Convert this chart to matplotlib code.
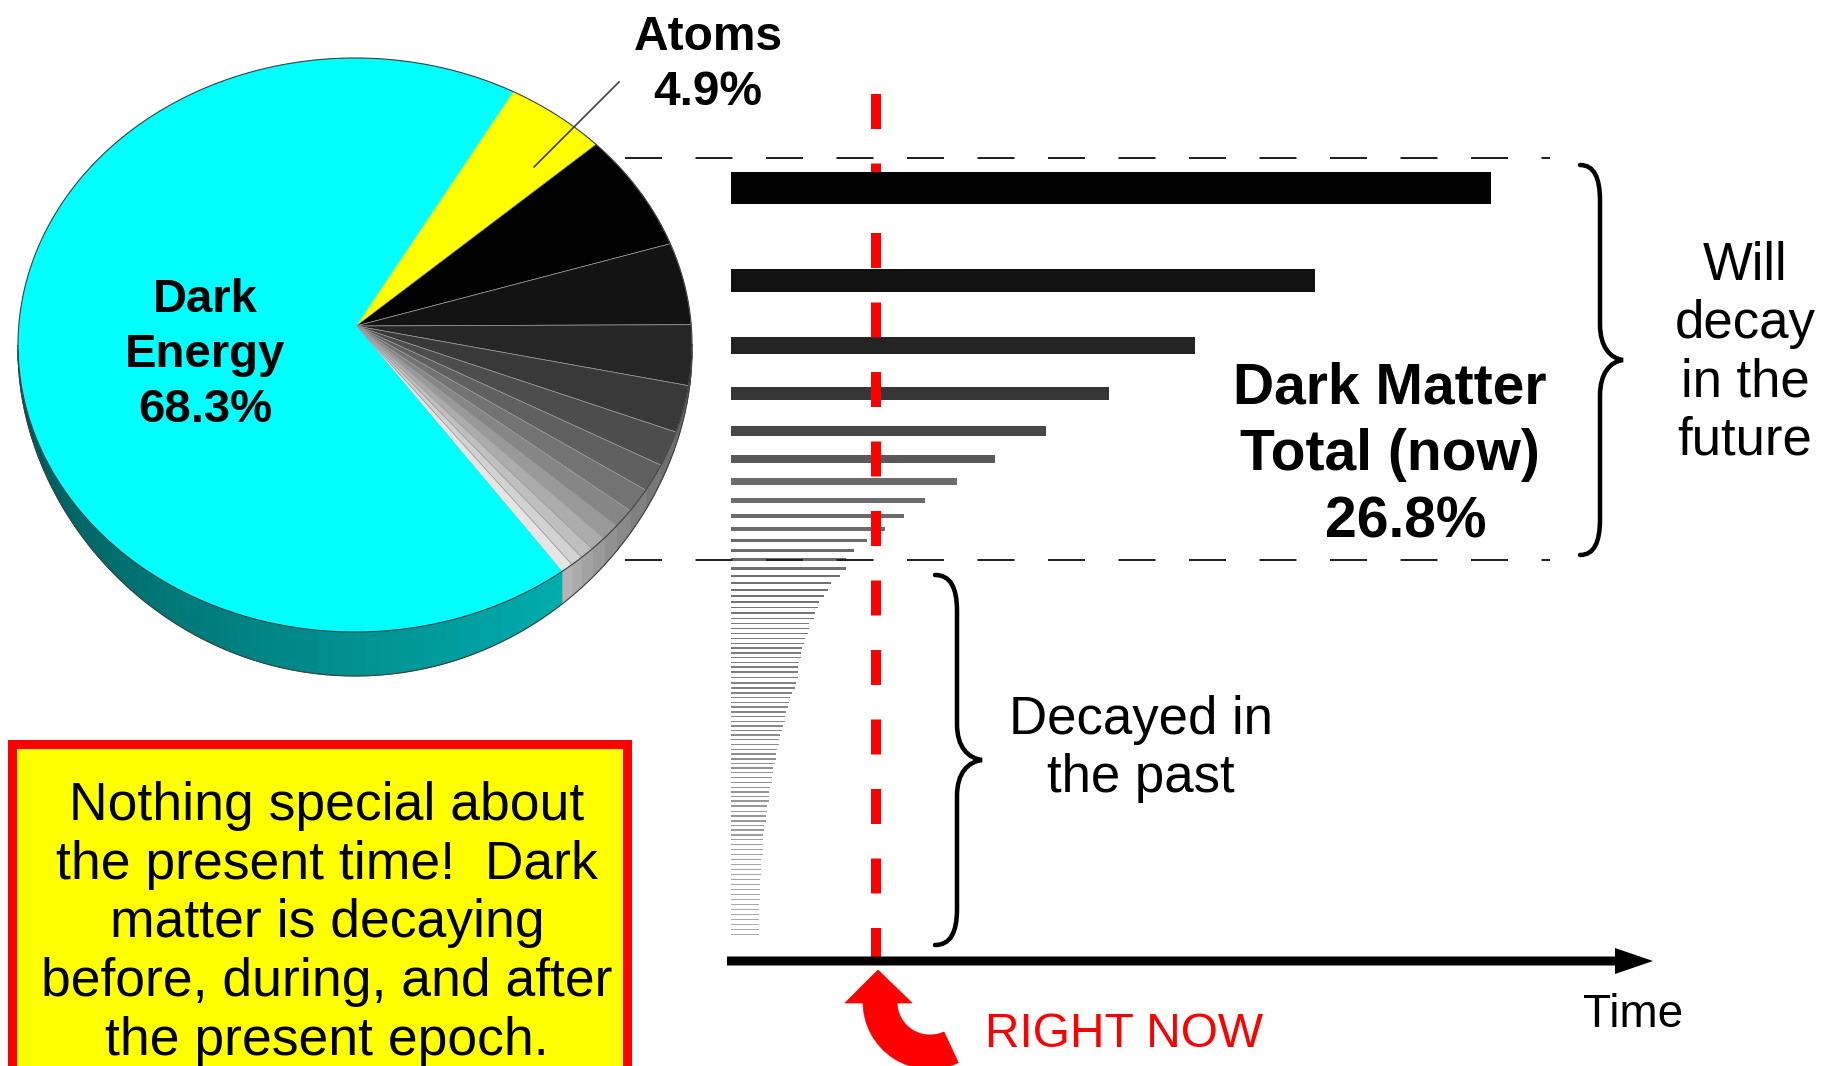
import numpy as np
import matplotlib
matplotlib.use("Agg")
import matplotlib.pyplot as plt
from matplotlib.patches import Polygon, Rectangle, Wedge, FancyArrow, PathPatch
from matplotlib.path import Path

# cosmic budget (%)
dark_energy = 68.3
atoms = 4.9
dark_matter = 26.8

# dark-matter species still around: lifetime (now = 1) and abundance weight
alive_life = [5.24, 4.03, 3.20, 2.61, 2.17, 1.82, 1.56, 1.34, 1.19, 1.06, 0.94, 0.85, 0.79]
alive_weight = [97, 68, 50, 39, 29, 23, 20, 16, 13, 12, 10, 9, 9]

# species that already decayed
decayed_life = [
    0.79, 0.75, 0.69, 0.67, 0.64, 0.61, 0.60, 0.58, 0.57, 0.54,
    0.54, 0.53, 0.51, 0.50, 0.49, 0.48, 0.48, 0.47, 0.46, 0.46,
    0.46, 0.45, 0.44, 0.42, 0.41, 0.40, 0.39, 0.38, 0.37, 0.37,
    0.36, 0.35, 0.34, 0.33, 0.33, 0.32, 0.31, 0.31, 0.30, 0.29,
    0.29, 0.28, 0.28, 0.27, 0.26, 0.26, 0.26, 0.25, 0.25, 0.24,
    0.24, 0.23, 0.23, 0.22, 0.22, 0.22, 0.22, 0.22, 0.21, 0.21,
    0.21, 0.21, 0.20, 0.20, 0.20, 0.20, 0.20, 0.19, 0.19, 0.19,
    0.19, 0.19, 0.19, 0.19,
]
decayed_weight = [
    7.5, 7.5, 6.5, 6.0, 6.0, 6.0, 5.5, 5.5, 5.0, 5.0,
    5.0, 5.0, 5.0, 4.5, 5.0, 4.5, 5.0, 4.5, 5.0, 5.5,
    5.5, 5.0, 5.0, 4.5, 5.0, 4.5, 5.0, 4.5, 5.0, 4.5,
    4.5, 4.5, 4.5, 5.0, 5.0, 4.5, 5.0, 4.5, 4.5, 4.5,
    5.0, 5.0, 5.0, 4.5, 4.5, 4.5, 4.5, 6.0, 4.5, 5.0,
    4.5, 4.5, 5.0, 4.5, 5.0, 5.0, 5.0, 5.0, 5.0, 5.0,
    5.0, 5.0, 5.0, 5.0, 5.0, 5.0, 5.0, 5.0, 5.0, 5.0,
    5.0, 5.0, 5.0, 5.0,
]

now = 1.0

plt.rcParams["font.family"] = ["Liberation Sans", "DejaVu Sans"]
plt.rcParams["lines.scale_dashes"] = False

W, H = 1832, 1066
PT = 0.72          # points per pixel at dpi 100
T0, PX_T = 731, 145  # time axis: origin pixel, pixels per time unit
BAR_TOP = 172

fig = plt.figure(figsize=(W / 100, H / 100), dpi=100)
bx = fig.add_axes([0, 0, 1, 1])   # bars, time on x
ax = fig.add_axes([0, 0, 1, 1])   # pixel canvas for the rest
for a in (ax, bx):
    a.set_axis_off()
ax.set_xlim(0, W)
ax.set_ylim(H, 0)
bx.set_xlim(-T0 / PX_T, (W - T0) / PX_T)
bx.set_ylim(H, 0)

# ---------------- bars ----------------
life = alive_life + decayed_life
weight = np.array(alive_weight + decayed_weight, dtype=float)
tops = BAR_TOP + np.concatenate([[0], np.cumsum(weight)[:-1]])
n_alive = len(alive_life)
gray = [min(0.07 * i, 0.42) for i in range(n_alive)]
gray += list(np.linspace(0.44, 0.68, len(decayed_life)))
bars = bx.barh(tops, life, height=weight / 3, align="edge",
               color=[str(g) for g in gray], lw=0, zorder=2)
bars[0].set_zorder(3)

bx.plot([now, now], [94, 962], color="#ff0000", lw=10 * PT,
        dashes=(35 * PT, 34.5 * PT), solid_capstyle="butt", zorder=2.5)

# dashed box around the surviving dark matter
for y in (158, 560):
    ax.plot([625, 1550], [y, y], color="#222222", lw=2 * PT,
            dashes=(37 * PT, 33.5 * PT))

# time axis
ax.add_patch(FancyArrow(727, 961, 1653 - 727, 0, width=9, head_width=26,
                        head_length=38, length_includes_head=True,
                        color="black", lw=0))

# ---------------- pie ----------------
CX, CY, RA, RB = 355, 345, 337, 287
APEX = (356, 326)
START = 62


def ell(t, deep=False):
    t = np.radians(t)
    dy = (6 + 38 * np.clip(-np.sin(t), 0, 1) ** 1.5) if deep else 0
    return np.column_stack([CX + RA * np.cos(t), CY - RB * np.sin(t) + dy])


dm_share = np.array(alive_weight) / sum(alive_weight) * dark_matter
shares = [atoms] + list(dm_share) + [dark_energy]
n_dm = len(dm_share)
top_cols = ["#ffff00"] + [str(min(0.075 * i, 0.92)) for i in range(n_dm)] + ["#00ffff"]
bounds = START - np.concatenate([[0], np.cumsum(shares)]) * 3.6

# side wall (front half only)
for i in range(len(shares)):
    hi, lo = min(bounds[i], 0), max(bounds[i + 1], -180)
    if hi <= lo:
        continue
    steps = np.linspace(hi, lo, max(2, int((hi - lo) / 2) + 2))
    for t1, t2 in zip(steps[:-1], steps[1:]):
        ts = np.linspace(t1, t2, 4)
        if i == len(shares) - 1:
            f = np.clip((0.5 * (t1 + t2) + 180) / 135, 0, 1)
            v = 0.30 + 0.40 * f
            c = (0, v, v)
        else:
            g = 0.30 + 0.45 * min(0.075 * (i - 1), 0.92)
            c = (g, g, g)
        pts = np.vstack([ell(ts), ell(ts[::-1], deep=True)])
        ax.add_patch(Polygon(pts, closed=True, fc=c, ec=c, lw=0.6))

# top surface
for i in range(len(shares)):
    n = max(3, int(abs(bounds[i] - bounds[i + 1]) * 2))
    pts = np.vstack([[APEX], ell(np.linspace(bounds[i], bounds[i + 1], n))])
    is_dm = 0 < i <= n_dm
    ax.add_patch(Polygon(pts, closed=True, fc=top_cols[i],
                         ec="#9a9a9a" if is_dm else top_cols[i],
                         lw=0.5 if is_dm else 0.3))

outline = ell(np.linspace(0, 360, 500))
ax.plot(outline[:, 0], outline[:, 1], color="#404040", lw=0.8)
rim = ell(np.linspace(-180, 0, 200), deep=True)
ax.plot(rim[:, 0], rim[:, 1], color="#404040", lw=0.8)

# ---------------- labels ----------------
def lines(x, y0, step, rows, **kw):
    for k, row in enumerate(rows):
        ax.text(x, y0 + k * step, row, ha="center", va="baseline", **kw)


lines(205, 312, 55, ["Dark", "Energy", f"{dark_energy}%"],
      fontsize=34, fontweight="bold")
lines(708, 50, 55, ["Atoms", f"{atoms}%"], fontsize=34.5, fontweight="bold")
ax.plot([619, 534], [82, 167], color="#404040", lw=1.2)

lines(1390, 403, 67, ["Dark Matter", "Total (now)"], fontsize=41, fontweight="bold")
ax.text(1406, 537, f"{dark_matter}%", ha="center", va="baseline",
        fontsize=41, fontweight="bold")

lines(1745, 280, 58.3, ["Will", "decay", "in the", "future"], fontsize=38)
lines(1141, 734, 58, ["Decayed in", "the past"], fontsize=38)


def brace(x0, xm, xt, y0, y1, c=36):
    ym = 0.5 * (y0 + y1)
    verts = [
        (x0, y0), (x0 + 0.7 * (xm - x0), y0), (xm, y0 + 0.35 * c), (xm, y0 + c),
        (xm, ym - c),
        (xm, ym - 0.35 * c), (xm + 0.45 * (xt - xm), ym - 0.05 * c), (xt, ym),
        (xm + 0.45 * (xt - xm), ym + 0.05 * c), (xm, ym + 0.35 * c), (xm, ym + c),
        (xm, y1 - c),
        (xm, y1 - 0.35 * c), (x0 + 0.7 * (xm - x0), y1), (x0, y1),
    ]
    codes = [Path.MOVETO] + [Path.CURVE4] * 3 + [Path.LINETO] + [Path.CURVE4] * 6 \
        + [Path.LINETO] + [Path.CURVE4] * 3
    ax.add_patch(PathPatch(Path(verts, codes), fill=False, ec="black",
                           lw=4.5 * PT, capstyle="round", joinstyle="miter"))


brace(1580, 1600, 1623, 165, 555)
brace(935, 957, 982, 575, 945)

# "right now" arrow under the time axis
now_px = T0 + now * PX_T
ax.add_patch(Wedge((now_px + 54, 1002), 67, 65, 180, width=34,
                   fc="#ff0000", ec="#ff0000", lw=0.5))
ax.add_patch(Polygon([(now_px - 31, 1003), (now_px + 36, 1003), (now_px + 2, 970)],
                     closed=True, fc="#ff0000", ec="#ff0000", lw=0.5))
ax.text(985, 1047, "RIGHT NOW", color="#ff0000", fontsize=34.5, va="baseline")
ax.text(1583, 1027, "Time", color="black", fontsize=33, va="baseline")

# note box
ax.add_patch(Rectangle((12, 744), 615, 420, fc="#ffff00", ec="#ff0000",
                       lw=9 * PT, clip_on=True))
lines(327, 820, 58.7, ["Nothing special about", "the present time!  Dark",
                       "matter is decaying", "before, during, and after",
                       "the present epoch."], fontsize=38.5)

fig.savefig("out.png", dpi=100)
